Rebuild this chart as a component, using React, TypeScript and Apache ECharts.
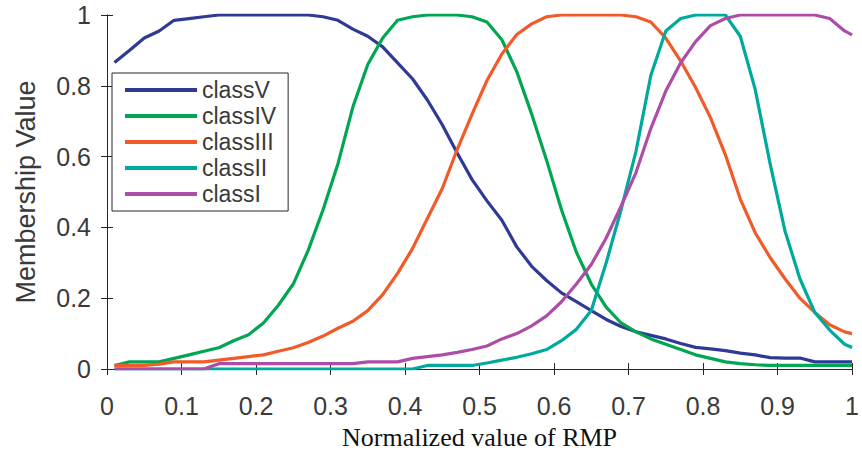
import React, { useEffect, useRef } from "react";
import * as echarts from "echarts";

const xValues = [
  0.01, 0.03, 0.05, 0.07, 0.09, 0.11, 0.13, 0.15, 0.17, 0.19,
  0.21, 0.23, 0.25, 0.27, 0.29, 0.31, 0.33, 0.35, 0.37, 0.39,
  0.41, 0.43, 0.45, 0.47, 0.49, 0.51, 0.53, 0.55, 0.57, 0.59,
  0.61, 0.63, 0.65, 0.67, 0.69, 0.71, 0.73, 0.75, 0.77, 0.79,
  0.81, 0.83, 0.85, 0.87, 0.89, 0.91, 0.93, 0.95, 0.97, 0.99, 1.0,
];

const classV = [
  0.866, 0.9, 0.935, 0.955, 0.985, 0.99, 0.995, 1, 1, 1,
  1, 1, 1, 1, 0.995, 0.985, 0.96, 0.94, 0.91, 0.865,
  0.82, 0.76, 0.69, 0.61, 0.535, 0.475, 0.42, 0.345, 0.29, 0.25,
  0.215, 0.19, 0.165, 0.14, 0.12, 0.105, 0.095, 0.085, 0.072, 0.061,
  0.057, 0.052, 0.045, 0.04, 0.032, 0.031, 0.031, 0.02, 0.02, 0.02, 0.02,
];

const classIV = [
  0.01, 0.02, 0.02, 0.02, 0.03, 0.04, 0.05, 0.06, 0.08, 0.097,
  0.13, 0.18, 0.24, 0.335, 0.45, 0.58, 0.74, 0.86, 0.935, 0.985,
  0.995, 1, 1, 1, 0.995, 0.98, 0.93, 0.84, 0.72, 0.59,
  0.45, 0.33, 0.24, 0.175, 0.13, 0.105, 0.085, 0.07, 0.055, 0.04,
  0.03, 0.02, 0.015, 0.012, 0.01, 0.01, 0.01, 0.01, 0.01, 0.01, 0.01,
];

const classIII = [
  0.01, 0.01, 0.01, 0.014, 0.02, 0.02, 0.02, 0.025, 0.03, 0.035,
  0.04, 0.05, 0.06, 0.075, 0.093, 0.115, 0.135, 0.165, 0.21, 0.27,
  0.34, 0.425, 0.51, 0.62, 0.72, 0.815, 0.89, 0.945, 0.975, 0.995,
  1, 1, 1, 1, 1, 0.995, 0.98, 0.935, 0.87, 0.795,
  0.71, 0.605, 0.48, 0.385, 0.315, 0.255, 0.2, 0.16, 0.125, 0.105, 0.1,
];

const classII = [
  0, 0, 0, 0, 0, 0, 0, 0, 0, 0,
  0, 0, 0, 0, 0, 0, 0, 0, 0, 0,
  0, 0.01, 0.01, 0.01, 0.01, 0.017, 0.025, 0.033, 0.043, 0.055,
  0.08, 0.112, 0.165, 0.3, 0.45, 0.615, 0.83, 0.955, 0.99, 1,
  1, 1, 0.94, 0.79, 0.58, 0.39, 0.255, 0.16, 0.11, 0.07, 0.061,
];

const classI = [
  0, 0, 0, 0, 0, 0, 0, 0.015, 0.015, 0.015,
  0.015, 0.015, 0.015, 0.015, 0.015, 0.015, 0.015, 0.02, 0.02, 0.02,
  0.03, 0.035, 0.04, 0.047, 0.055, 0.065, 0.085, 0.1, 0.122, 0.15,
  0.19, 0.24, 0.295, 0.37, 0.46, 0.555, 0.68, 0.785, 0.865, 0.925,
  0.97, 0.99, 1, 1, 1, 1, 1, 1, 0.99, 0.955, 0.944,
];

const seriesNames = ["classV", "classIV", "classIII", "classII", "classI"];
const seriesValues = [classV, classIV, classIII, classII, classI];
const seriesColors = ["#2E3A94", "#00A651", "#F15A29", "#00A99D", "#AD4DA8"];

const axisColor = "#262626";
const labelColor = "#3a3a3a";

export default function App() {
  const ref = useRef<HTMLDivElement>(null);

  useEffect(() => {
    if (!ref.current) return;
    const chart = echarts.init(ref.current, undefined, { renderer: "svg" });

    const tickCommon = {
      axisLine: { show: true, lineStyle: { color: axisColor, width: 1 } },
      axisTick: { show: true, inside: true, length: 6, lineStyle: { color: axisColor } },
      splitLine: { show: false },
    };

    chart.setOption({
      animation: false,
      backgroundColor: "#ffffff",
      grid: { left: 107, right: 5, top: 15, bottom: 81, containLabel: false },
      legend: {
        data: seriesNames,
        orient: "vertical",
        left: 112,
        top: 73,
        icon: "rect",
        itemWidth: 72,
        itemHeight: 4,
        itemGap: 2,
        itemTextGap: 6,
        padding: [5, 12, 5, 13],
        backgroundColor: "#ffffff",
        borderColor: axisColor,
        borderWidth: 1,
        textStyle: {
          fontFamily: "Liberation Sans, Arial, sans-serif",
          fontSize: 23,
          lineHeight: 24,
          color: labelColor,
        },
      },
      xAxis: [
        {
          type: "value",
          min: 0,
          max: 1,
          interval: 0.1,
          position: "bottom",
          name: "Normalized value of RMP",
          nameLocation: "middle",
          nameGap: 55,
          nameTextStyle: {
            fontFamily: "Liberation Serif, Times New Roman, serif",
            fontSize: 26,
            color: "#111111",
          },
          axisLabel: {
            fontFamily: "Liberation Sans, Arial, sans-serif",
            fontSize: 25,
            color: labelColor,
            margin: 24,
          },
          ...tickCommon,
        },
        {
          type: "value",
          min: 0,
          max: 1,
          interval: 0.1,
          position: "top",
          axisLabel: { show: false },
          ...tickCommon,
        },
      ],
      yAxis: [
        {
          type: "value",
          min: 0,
          max: 1,
          interval: 0.2,
          position: "left",
          name: "Membership Value",
          nameLocation: "middle",
          nameGap: 68,
          nameTextStyle: {
            fontFamily: "Liberation Sans, Arial, sans-serif",
            fontSize: 27,
            color: labelColor,
          },
          axisLabel: {
            fontFamily: "Liberation Sans, Arial, sans-serif",
            fontSize: 25,
            color: labelColor,
            margin: 16,
          },
          ...tickCommon,
        },
        {
          type: "value",
          min: 0,
          max: 1,
          interval: 0.2,
          position: "right",
          axisLabel: { show: false },
          ...tickCommon,
        },
      ],
      series: seriesNames.map((name, i) => ({
        name,
        type: "line",
        xAxisIndex: 0,
        yAxisIndex: 0,
        showSymbol: false,
        symbol: "none",
        color: seriesColors[i],
        lineStyle: { width: 3.2, color: seriesColors[i] },
        data: xValues.map((x, j) => [x, seriesValues[i][j]]),
      })),
    });

    return () => chart.dispose();
  }, []);

  return (
    <div
      ref={ref}
      style={{ position: "absolute", left: 0, top: 0, width: 862, height: 455 }}
    />
  );
}
